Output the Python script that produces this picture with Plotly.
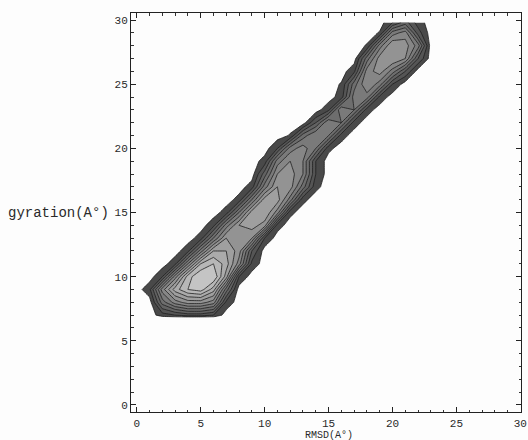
import plotly.graph_objects as go

# Grid coordinates (RMSD on x, gyration radius on y)
x_grid = list(range(0, 25))
y_grid = [6.8, 7, 8, 9, 10, 11, 12, 13, 14, 15, 16, 17, 18, 19, 20,
          21, 22, 23, 24, 25, 26, 27, 28, 29, 29.8]

# Density values per row: (first x index); zeros elsewhere
row_start = [0, 2, 2, 1, 2, 3, 4, 5, 6, 7, 8, 9, 10, 10, 11,
             12, 14, 15, 16, 16, 17, 18, 18, 19, 20]
row_values = [
    [],
    [1, 1.5, 2, 2, 1.5],
    [4, 6, 7, 7, 6, 1.2],
    [1.2, 6, 9, 10.5, 11, 9, 4],
    [1.5, 6, 10, 11.5, 11.5, 8, 1.5],
    [1.2, 5.5, 9.5, 10.5, 9, 6, 1.2],
    [1.2, 5, 8.5, 8.5, 7, 2.5],
    [1, 4.5, 7.5, 7.5, 6.5, 1.5],
    [1.2, 5, 7.5, 8, 7, 1],
    [1, 4.5, 8, 8.5, 6, 0.8],
    [0.9, 4.5, 8, 8, 5, 0.8],
    [1, 5, 7.5, 7, 4, 0.8],
    [3, 6.5, 7, 5.5, 1.5],
    [0.9, 5, 6.5, 5.5, 1.5],
    [1.5, 5, 6, 4.5, 0.8],
    [0.6, 4, 5.5, 4.5, 1],
    [2.5, 5.5, 4.5, 1],
    [1.25, 5.5, 4.5, 1],
    [1, 5, 5, 1.2],
    [0.6, 4, 6.5, 5, 1.5],
    [1.25, 6, 7, 5, 2.5],
    [4, 7, 7.5, 6.5, 2.5],
    [0.6, 5, 7.5, 7, 5],
    [0.6, 5, 6, 2],
    [1.5, 3, 1],
]

x_ticks = [0, 5, 10, 15, 20, 25, 30]
y_ticks = [0, 5, 10, 15, 20, 25, 30]
x_title = "RMSD(A°)"
y_title = "gyration(A°)"

z = []
for s, vals in zip(row_start, row_values):
    row = [0.0] * len(x_grid)
    for i, v in enumerate(vals):
        row[s + i] = v
    z.append(row)

fig = go.Figure()
fig.add_trace(go.Contour(
    x=x_grid, y=y_grid, z=z,
    autocontour=False,
    contours=dict(start=0.5, end=11.5, size=1, coloring="fill"),
    colorscale=[[0, "#fdfdfd"], [1 / 24, "#fdfdfd"], [1 / 24, "#434343"], [1, "#d0d0d0"]],
    line=dict(color="#1e1e1e", width=0.8, smoothing=0),
    showscale=False,
    hoverinfo="skip",
))

tick_font = dict(family="Liberation Mono", size=11, color="#2a2a2a")
fig.update_xaxes(
    range=[-0.45, 30.05], tickvals=x_ticks, ticks="inside", ticklen=5,
    tickcolor="#222", showline=True, linecolor="#222", linewidth=1,
    mirror="ticks", showgrid=False, zeroline=False, tickfont=tick_font,
    ticklabeloverflow="allow", ticklabelstandoff=1,
    minor=dict(dtick=1, ticks="inside", ticklen=2.5, tickcolor="#333"),
)
fig.update_yaxes(
    range=[-0.55, 30.55], tickvals=y_ticks, ticks="inside", ticklen=5,
    tickcolor="#222", showline=True, linecolor="#222", linewidth=1,
    mirror="ticks", showgrid=False, zeroline=False, tickfont=tick_font,
    minor=dict(dtick=1, ticks="inside", ticklen=2.5, tickcolor="#333"),
)
fig.add_annotation(x=15, y=0, xref="x", yref="paper", yanchor="top", yshift=-16,
                   text=x_title, showarrow=False,
                   font=dict(family="Liberation Mono", size=10, color="#2a2a2a"))
fig.add_annotation(x=0, y=15, xref="paper", yref="y", xshift=-20, xanchor="right",
                   text=y_title, showarrow=False,
                   font=dict(family="Liberation Mono", size=14, color="#2a2a2a"))
fig.update_layout(
    width=528, height=440,
    margin=dict(l=131, r=1, t=13, b=28),
    paper_bgcolor="#fdfdfd", plot_bgcolor="#fdfdfd",
    showlegend=False,
)
fig.write_html("out.html")
